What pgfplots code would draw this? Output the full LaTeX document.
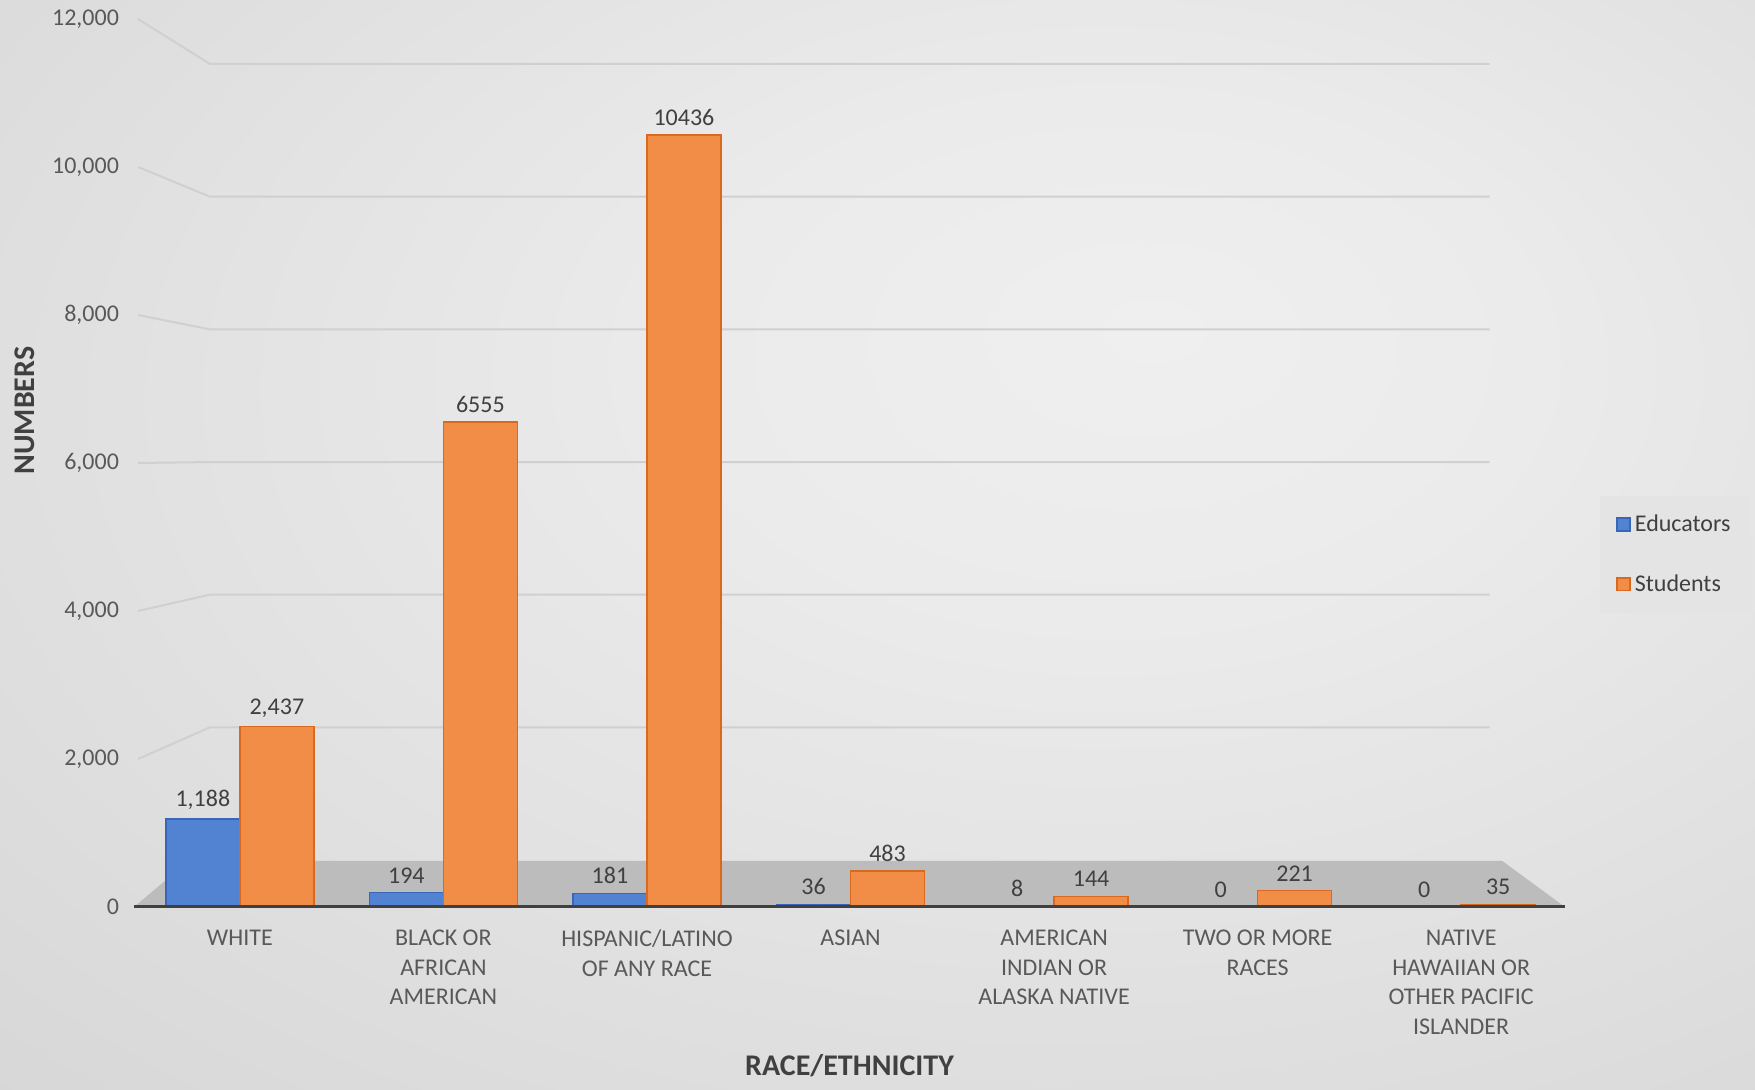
\documentclass[border=0pt]{standalone}
\usepackage{pgfplots}
\pgfplotsset{compat=1.18}
\usepackage{pgfplotstable}
\usepackage{fontspec}
\setmainfont{Carlito}
\definecolor{bgin}{HTML}{EFEFEF}
\definecolor{bgmid}{HTML}{EBEBEB}
\definecolor{bgout}{HTML}{CBCBCB}
\definecolor{edufill}{HTML}{5282D2}
\definecolor{eduedge}{HTML}{3A66B8}
\definecolor{stufill}{HTML}{F28D48}
\definecolor{stuedge}{HTML}{D8691E}
\definecolor{txt}{HTML}{595959}
\definecolor{lab}{HTML}{404040}
\definecolor{gridc}{HTML}{D0D0D0}
\definecolor{floorc}{HTML}{BCBCBC}
\definecolor{legbg}{HTML}{E4E4E4}
\pgfdeclareradialshading{bgshade}{\pgfpoint{8bp}{10bp}}{color(0bp)=(bgin); color(12bp)=(bgmid); color(60bp)=(bgout); color(80bp)=(bgout)}
\newcommand\tk{\fontsize{12}{14.8}\selectfont}
\pgfplotstableread{
x edu edulab stu stulab
0 1188 1,188 2437 2,437
1 194 194 6555 6555
2 181 181 10436 10436
3 36 36 483 483
4 8 8 144 144
5 0 0 221 221
6 0 0 35 35
}\datatable
\begin{document}
\begin{tikzpicture}[x=1pt,y=1pt]
\shade[shading=bgshade] (0,0) rectangle (877.5,544.5);
\begin{axis}[
  at={(67pt,91pt)}, anchor=south west,
  scale only axis, width=715.5pt, height=444pt,
  xmin=-0.52, xmax=6.51, ymin=0, ymax=12000,
  ytick={0,2000,4000,6000,8000,10000,12000},
  xtick={0,1,2,3,4,5,6},
  xticklabels={WHITE,{BLACK OR\\AFRICAN\\AMERICAN},{HISPANIC/LATINO\\OF ANY RACE},ASIAN,{AMERICAN\\INDIAN OR\\ALASKA NATIVE},{TWO OR MORE\\RACES},{NATIVE\\HAWAIIAN OR\\OTHER PACIFIC\\ISLANDER}},
  xticklabel style={align=center, font=\tk, text=txt, yshift=-8pt},
  yticklabel style={font=\tk, text=txt, xshift=-4pt},
  scaled y ticks=false,
  yticklabel={\pgfmathprintnumber[1000 sep={,}, assume math mode=true]{\tick}},
  axis line style={draw=none},
  major tick length=0pt,
  xlabel={RACE/ETHNICITY}, ylabel={NUMBERS},
  xlabel style={at={(axis description cs:0.5,0)}, anchor=center, yshift=-79.5pt, font=\fontsize{15}{18}\selectfont\bfseries, text=lab},
  ylabel style={at={(axis description cs:0,0.559)}, anchor=center, yshift=54.7pt, font=\fontsize{15}{18}\selectfont\bfseries, text=lab},
  ybar=0pt, bar width=37pt,
  point meta=explicit symbolic,
  nodes near coords,
  nodes near coords style={font=\tk, text=lab, anchor=south, yshift=1pt},
  legend style={at={(axis description cs:1.0245,0.397)}, anchor=west, draw=none, fill=legbg, font=\tk, text=lab, row sep=16pt, inner xsep=8pt, inner ysep=7.5pt, text width=48pt, cells={anchor=west}},
  legend image code/.code={\draw[#1, line width=0.8pt] (0pt,-3.2pt) rectangle (6.4pt,3.2pt);},
]
% back-wall gridlines (3-D look) with slanted connectors to the tick labels
\draw[gridc, line width=1pt] (axis cs:-0.50,2000) -- (axis cs:-0.147,2428) -- (axis cs:6.14,2428);
\draw[gridc, line width=1pt] (axis cs:-0.50,4000) -- (axis cs:-0.147,4221) -- (axis cs:6.14,4221);
\draw[gridc, line width=1pt] (axis cs:-0.50,6000) -- (axis cs:-0.147,6013) -- (axis cs:6.14,6013);
\draw[gridc, line width=1pt] (axis cs:-0.50,8000) -- (axis cs:-0.147,7806) -- (axis cs:6.14,7806);
\draw[gridc, line width=1pt] (axis cs:-0.50,10000) -- (axis cs:-0.147,9599) -- (axis cs:6.14,9599);
\draw[gridc, line width=1pt] (axis cs:-0.50,12000) -- (axis cs:-0.147,11392) -- (axis cs:6.14,11392);
\fill[floorc] (axis cs:-0.52,0) -- (axis cs:6.51,0) -- (axis cs:6.20,625) -- (axis cs:-0.25,625) -- cycle;
\addplot[fill=edufill, draw=eduedge, line width=0.8pt] table[x=x, y=edu, meta=edulab] {\datatable};
\addplot[fill=stufill, draw=stuedge, line width=0.8pt] table[x=x, y=stu, meta=stulab] {\datatable};
\legend{Educators, Students}
\draw[lab, line width=2.2pt] (axis cs:-0.52,0) -- (axis cs:6.51,0);
\end{axis}
\pgfresetboundingbox
\path[use as bounding box] (0,0) rectangle (877.5,544.5);
\end{tikzpicture}
\end{document}
